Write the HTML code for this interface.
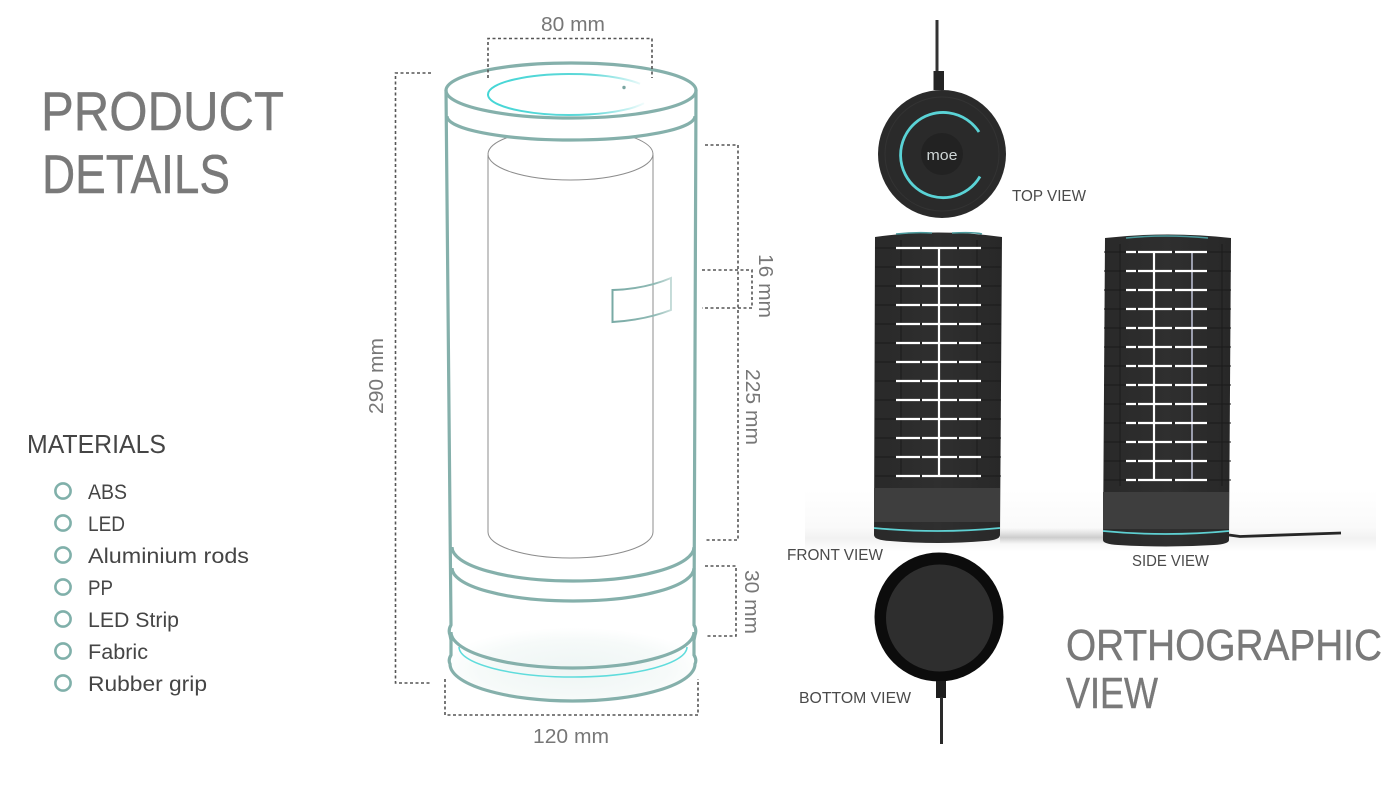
<!DOCTYPE html>
<html><head><meta charset="utf-8"><style>
html,body{margin:0;padding:0;background:#fff;width:1400px;height:788px;overflow:hidden}
svg{display:block}
text{font-family:"Liberation Sans",sans-serif}
.t{fill:#797979;font-size:55px;stroke:#797979;stroke-width:.4}
.d{fill:#777;font-size:20px}
.m{fill:#454545;font-size:21.5px}
.v{fill:#4a4a4a;font-size:16px}
.g{fill:none;stroke:#85b0ab;stroke-width:3.2}
.dash{fill:none;stroke:#555;stroke-width:1.6;stroke-dasharray:3 2.5}
.i{fill:none;stroke:#8c8c8c;stroke-width:1}
</style></head><body>
<svg width="1400" height="788" viewBox="0 0 1400 788" xmlns="http://www.w3.org/2000/svg">
<defs>
<linearGradient id="cy" x1="488" x2="646" y1="0" y2="0" gradientUnits="userSpaceOnUse"><stop offset="0" stop-color="#45d6d6"/><stop offset=".65" stop-color="#5fd8d8"/><stop offset="1" stop-color="#5fd8d8" stop-opacity=".05"/></linearGradient>
<linearGradient id="pt" x1="612" x2="672" y1="0" y2="0" gradientUnits="userSpaceOnUse"><stop offset="0" stop-color="#79aaa5"/><stop offset=".7" stop-color="#8fb9b4"/><stop offset="1" stop-color="#c9dedb"/></linearGradient>
<radialGradient id="glow" cx=".5" cy=".6" r=".55"><stop offset="0" stop-color="#eef5f4"/><stop offset=".7" stop-color="#f6faf9"/><stop offset="1" stop-color="#fff"/></radialGradient>
<linearGradient id="sh" x1="0" x2="0" y1="0" y2="1"><stop offset="0" stop-color="#fff"/><stop offset=".6" stop-color="#fafafa"/><stop offset=".78" stop-color="#f2f2f2"/><stop offset="1" stop-color="#fff"/></linearGradient>
<linearGradient id="hs" x1="0" x2="0" y1="0" y2="1"><stop offset="0" stop-color="#d8d8d8" stop-opacity="0"/><stop offset=".6" stop-color="#cdcdcd"/><stop offset="1" stop-color="#d8d8d8" stop-opacity="0"/></linearGradient>
<linearGradient id="body" x1="0" x2="1" y1="0" y2="0"><stop offset="0" stop-color="#292929"/><stop offset=".5" stop-color="#2f2f2f"/><stop offset="1" stop-color="#282828"/></linearGradient>
</defs>

<!-- Titles -->
<text class="t" x="41" y="130" textLength="243" lengthAdjust="spacingAndGlyphs">PRODUCT</text>
<text class="t" x="42" y="193" textLength="188" lengthAdjust="spacingAndGlyphs">DETAILS</text>
<text class="t" x="1066" y="660" style="font-size:44px" textLength="316" lengthAdjust="spacingAndGlyphs">ORTHOGRAPHIC</text>
<text class="t" x="1066" y="708" style="font-size:44px" textLength="92" lengthAdjust="spacingAndGlyphs">VIEW</text>

<!-- Materials -->
<text x="27" y="453" fill="#454545" font-size="25.5" textLength="139" lengthAdjust="spacingAndGlyphs">MATERIALS</text>
<g fill="none" stroke="#80b0aa" stroke-width="2.6">
<circle cx="63" cy="491" r="7.6"/><circle cx="63" cy="523" r="7.6"/><circle cx="63" cy="555" r="7.6"/><circle cx="63" cy="587" r="7.6"/><circle cx="63" cy="619" r="7.6"/><circle cx="63" cy="651" r="7.6"/><circle cx="63" cy="683" r="7.6"/>
</g>
<text class="m" x="88" y="499" textLength="39" lengthAdjust="spacingAndGlyphs">ABS</text>
<text class="m" x="88" y="531" textLength="37" lengthAdjust="spacingAndGlyphs">LED</text>
<text class="m" x="88" y="563" textLength="161" lengthAdjust="spacingAndGlyphs">Aluminium rods</text>
<text class="m" x="88" y="595" textLength="25" lengthAdjust="spacingAndGlyphs">PP</text>
<text class="m" x="88" y="627" textLength="91" lengthAdjust="spacingAndGlyphs">LED Strip</text>
<text class="m" x="88" y="659" textLength="60" lengthAdjust="spacingAndGlyphs">Fabric</text>
<text class="m" x="88" y="691" textLength="119" lengthAdjust="spacingAndGlyphs">Rubber grip</text>

<!-- Line drawing -->
<ellipse cx="573" cy="662" rx="122" ry="38" fill="url(#glow)"/>
<path class="i" d="M488 155V532A82.500 26 0 0 0 653 532V155"/>
<path class="i" d="M507 137.600A82.500 26 0 0 0 488 154A82.500 26 0 0 0 653 154A82.500 26 0 0 0 634 137.600" stroke="#666"/>
<path class="g" d="M446 90L451 625Q448 630 450 635L451 640V655Q448 660 450 664A122.500 37 0 0 0 695 664Q697 660 694 655V640L695 635Q697 630 694 625L696 90"/>
<ellipse class="g" cx="571" cy="90.500" rx="125" ry="27.500" fill="#fff"/>
<path class="g" d="M447 116A124 24 0 0 0 695 116"/>
<path class="g" d="M452 547A121 34 0 0 0 694 547"/>
<path class="g" d="M452 568A121 33 0 0 0 694 568"/>
<path class="g" d="M451 632A121.500 36 0 0 0 694 632"/>
<path d="M459 647A114 30 0 0 0 687 647" fill="none" stroke="#5fdcdc" stroke-width="1.500"/>
<path d="M644 103.300A82 20.500 0 1 1 640 83.800" fill="none" stroke="url(#cy)" stroke-width="2"/>
<circle cx="624" cy="87.500" r="1.700" fill="#7aa5a1"/>
<path d="M612.500 290Q645 289 671 278V310Q645 320 612.500 322Z" fill="none" stroke="url(#pt)" stroke-width="2"/>

<!-- Dimensions -->
<path class="dash" d="M488 78V38.500H652V78"/>
<path class="dash" d="M431 73H395.500V683H431"/>
<path class="dash" d="M705 145H738V540H705"/>
<path class="dash" d="M702 270H752V308H702"/>
<path class="dash" d="M705 566H736V636H705"/>
<path class="dash" d="M445 679V715H698V679"/>
<text class="d" x="541" y="31" textLength="64" lengthAdjust="spacingAndGlyphs">80 mm</text>
<text class="d" x="533" y="743" textLength="76" lengthAdjust="spacingAndGlyphs">120 mm</text>
<text class="d" transform="translate(383 414) rotate(-90)" textLength="76" lengthAdjust="spacingAndGlyphs">290 mm</text>
<text class="d" transform="translate(759 254) rotate(90)" textLength="64" lengthAdjust="spacingAndGlyphs">16 mm</text>
<text class="d" transform="translate(746 369) rotate(90)" textLength="76" lengthAdjust="spacingAndGlyphs">225 mm</text>
<text class="d" transform="translate(745 570) rotate(90)" textLength="64" lengthAdjust="spacingAndGlyphs">30 mm</text>

<!-- Floor shadow -->
<rect x="805" y="490" width="571" height="62" fill="url(#sh)"/>
<rect x="1000" y="528" width="105" height="16" fill="url(#hs)"/>

<!-- Top view -->
<path d="M937 20V72" stroke="#333" stroke-width="3"/>
<rect x="933.500" y="71" width="10.500" height="19" fill="#242424"/>
<circle cx="942" cy="154" r="64" fill="#2a2a2a"/>
<circle cx="942" cy="154" r="57" fill="none" stroke="#333" stroke-width="1"/>
<circle cx="942" cy="154" r="21" fill="#222"/>
<path d="M979 132A42.600 42.600 0 1 0 980 176.500" fill="none" stroke="#5ad3d6" stroke-width="2.800"/>
<text x="942" y="160" text-anchor="middle" font-size="15" fill="#cfd6d6" textLength="31" lengthAdjust="spacingAndGlyphs">moe</text>
<text class="v" x="1012" y="201" textLength="74" lengthAdjust="spacingAndGlyphs">TOP VIEW</text>

<!-- Front view -->
<path d="M875 237Q938 228 1002 237L1000 535Q1000 540 985 541Q938 545 890 541Q874 540 874 535Z" fill="url(#body)"/>
<path d="M896 234Q915 232 932 233M952 233Q975 232 982 234" stroke="#4b9a9c" stroke-width="1.500" fill="none"/>
<rect x="874" y="488" width="126" height="34" fill="#3e3e3e"/>
<path d="M874 528Q938 534 1000 528" fill="none" stroke="#5ed0d2" stroke-width="1.800"/>
<g fill="none" stroke="#1b1b1b" stroke-width="1"><path d="M901 240V480M977 240V480"/></g>
<g stroke="#1a1a1a" stroke-width="1"><path d="M875 248H1001M875 267H1001M875 286H1001M875 305H1001M875 324H1001M875 343H1001M875 362H1001M875 381H1001M875 400H1001M875 419H1001M875 438H1001M875 457H1001M875 476H1001"/></g>
<g stroke="#fff" stroke-width="2.200">
<path d="M896 248H920M922 248H957M959 248H981M896 267H920M922 267H957M959 267H981M896 286H920M922 286H957M959 286H981M896 305H920M922 305H957M959 305H981M896 324H920M922 324H957M959 324H981M896 343H920M922 343H957M959 343H981M896 362H920M922 362H957M959 362H981M896 381H920M922 381H957M959 381H981M896 400H920M922 400H957M959 400H981M896 419H920M922 419H957M959 419H981M896 438H920M922 438H957M959 438H981M896 457H920M922 457H957M959 457H981M896 476H920M922 476H957M959 476H981"/>
<path d="M939 248V476"/>
</g>
<text class="v" x="787" y="560" textLength="96" lengthAdjust="spacingAndGlyphs">FRONT VIEW</text>

<!-- Side view -->
<path d="M1105 238Q1168 231 1231 238L1229 540Q1229 544 1214 545Q1166 548 1118 545Q1103 544 1103 540Z" fill="url(#body)"/>
<path d="M1126 238Q1165 234 1208 238" stroke="#4b9a9c" stroke-width="1.500" fill="none"/>
<rect x="1103" y="492" width="126" height="37" fill="#3e3e3e"/>
<path d="M1103 531Q1166 537 1229 531" fill="none" stroke="#5ed0d2" stroke-width="1.800"/>
<g fill="none" stroke="#1b1b1b" stroke-width="1"><path d="M1120 244V486M1222 244V486"/></g>
<g stroke="#1a1a1a" stroke-width="1"><path d="M1104 252H1231M1104 271H1231M1104 290H1231M1104 309H1231M1104 328H1231M1104 347H1231M1104 366H1231M1104 385H1231M1104 404H1231M1104 423H1231M1104 442H1231M1104 461H1231M1104 480H1231"/></g>
<path d="M1192 252V480" stroke="#a8abbd" stroke-width="1.800"/>
<g stroke="#fff" stroke-width="2.200">
<path d="M1126 252H1136M1138 252H1172M1175 252H1207M1126 271H1136M1138 271H1172M1175 271H1207M1126 290H1136M1138 290H1172M1175 290H1207M1126 309H1136M1138 309H1172M1175 309H1207M1126 328H1136M1138 328H1172M1175 328H1207M1126 347H1136M1138 347H1172M1175 347H1207M1126 366H1136M1138 366H1172M1175 366H1207M1126 385H1136M1138 385H1172M1175 385H1207M1126 404H1136M1138 404H1172M1175 404H1207M1126 423H1136M1138 423H1172M1175 423H1207M1126 442H1136M1138 442H1172M1175 442H1207M1126 461H1136M1138 461H1172M1175 461H1207M1126 480H1136M1138 480H1172M1175 480H1207"/>
<path d="M1154 252V480"/>
</g>
<path d="M1229 535L1240 536.500L1341 533" fill="none" stroke="#262626" stroke-width="2.800"/>
<text class="v" x="1132" y="566" textLength="77" lengthAdjust="spacingAndGlyphs">SIDE VIEW</text>

<!-- Bottom view -->
<circle cx="939" cy="617" r="64.500" fill="#0c0c0c"/>
<circle cx="939.500" cy="618" r="53.500" fill="#2e2e2e"/>
<rect x="936" y="681" width="10" height="17" fill="#1e1e1e"/>
<path d="M941.500 697V744" stroke="#2a2a2a" stroke-width="3"/>
<text class="v" x="799" y="703" textLength="112" lengthAdjust="spacingAndGlyphs">BOTTOM VIEW</text>
</svg>
</body></html>
